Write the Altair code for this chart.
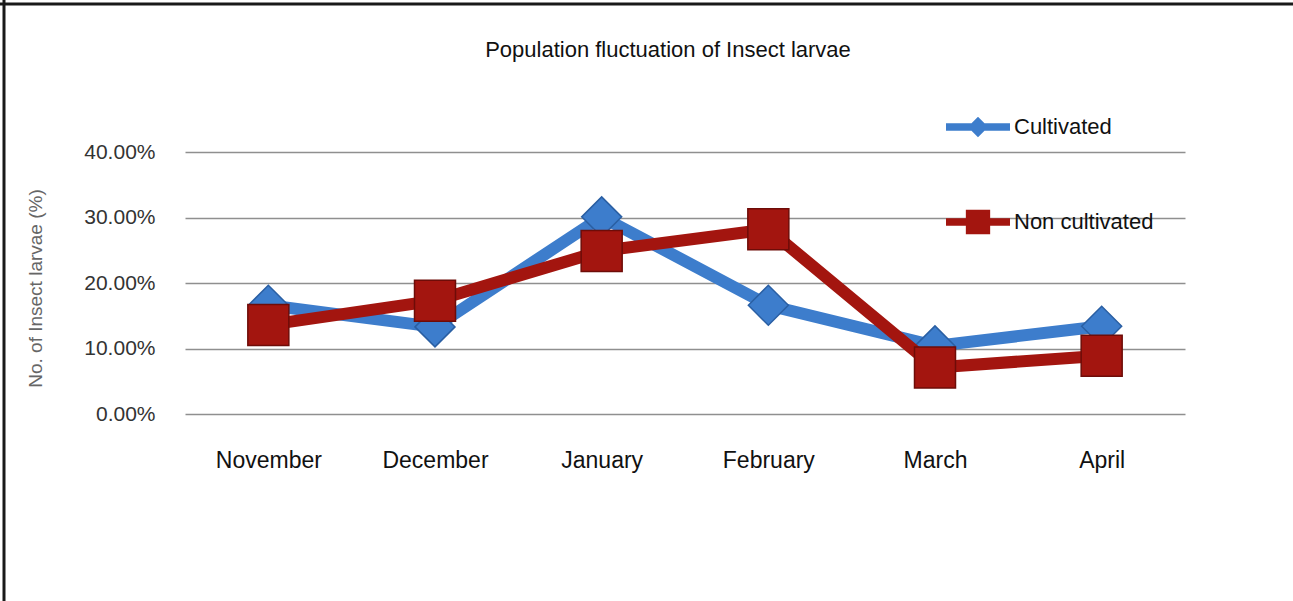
import altair as alt
import pandas as pd

# Monthly share of insect larvae (%) in two field types
months = ["November", "December", "January", "February", "March", "April"]
cultivated = [16.6, 13.3, 30.1, 16.6, 10.4, 13.4]
non_cultivated = [13.6, 17.3, 24.9, 28.2, 7.1, 8.9]

series = ["Cultivated", "Non cultivated"]
colors = ["#3D7DCC", "#A3150F"]

df = pd.DataFrame(
    {
        "month": months * 2,
        "value": [v / 100 for v in cultivated] + [v / 100 for v in non_cultivated],
        "series": ["Cultivated"] * len(months) + ["Non cultivated"] * len(months),
    }
)

FONT = "Liberation Sans"
TITLE = "Population fluctuation of Insect larvae"

x_enc = alt.X(
    "month:N",
    sort=months,
    scale=alt.Scale(type="point", padding=0.5),
    axis=alt.Axis(
        title=None,
        labelAngle=0,
        labelFontSize=23,
        labelColor="#111111",
        labelFont=FONT,
        labelPadding=35,
        ticks=False,
        domain=False,
        grid=False,
    ),
)
y_enc = alt.Y(
    "value:Q",
    scale=alt.Scale(domain=[0, 0.4], nice=False),
    axis=alt.Axis(
        title="No. of Insect larvae (%)",
        values=[0, 0.1, 0.2, 0.3, 0.4],
        format=".2%",
        labelFontSize=21,
        labelColor="#333333",
        labelFont=FONT,
        labelPadding=30,
        ticks=False,
        domain=False,
        grid=True,
        gridColor="#8f8f8f",
        gridWidth=1.5,
        titleFont=FONT,
        titleFontSize=19,
        titleFontWeight="normal",
        titleColor="#666666",
        titleX=-150,
        titleY=136,
        titleAngle=270,
        titleAlign="center",
        titleBaseline="middle",
    ),
)

color_scale = alt.Scale(domain=series, range=colors)

# legend symbols: a thick line segment with the series marker on it
diamond_sym = "M-1,-0.12L1,-0.12L1,0.12L-1,0.12Z M0,-0.32L0.32,0L0,0.32L-0.32,0Z"
square_sym = "M-1,-0.12L1,-0.12L1,0.12L-1,0.12Z M-0.38,-0.38L0.38,-0.38L0.38,0.38L-0.38,0.38Z"

legend = alt.Legend(
    title=None,
    orient="none",
    legendX=761,
    legendY=-57,
    direction="vertical",
    symbolSize=4096,
    symbolStrokeWidth=0,
    symbolOpacity=1,
    rowPadding=52,
    labelOffset=4,
    labelFontSize=22,
    labelFont=FONT,
    labelColor="#111111",
)

base = alt.Chart(df)


def line_layer(name):
    return (
        base.transform_filter(alt.datum.series == name)
        .mark_line(strokeWidth=12, strokeJoin="miter")
        .encode(x=x_enc, y=y_enc, color=alt.Color("series:N", scale=color_scale, legend=None))
    )


def point_layer(name, shape, size, edge):
    return (
        base.transform_filter(alt.datum.series == name)
        .mark_point(filled=True, shape=shape, size=size, opacity=1, stroke=edge, strokeWidth=1.5)
        .encode(
            x=x_enc,
            y=y_enc,
            color=alt.Color("series:N", scale=color_scale, legend=None),
        )
    )


# zero-size points whose only job is to carry the legend
legend_layer = (
    base.mark_point(filled=True, opacity=1, size=0)
    .encode(
        x=x_enc,
        y=y_enc,
        color=alt.Color("series:N", scale=color_scale, legend=legend),
        shape=alt.Shape(
            "series:N",
            scale=alt.Scale(domain=series, range=[diamond_sym, square_sym]),
            legend=legend,
        ),
    )
)

# frame lines along the top and left edge of the figure
frame = pd.DataFrame({"k": [0]})
top_edge = (
    alt.Chart(frame)
    .mark_rule(color="#1a1a1a", strokeWidth=3)
    .encode(x=alt.value(-185), x2=alt.value(1108), y=alt.value(-148))
)
left_edge = (
    alt.Chart(frame)
    .mark_rule(color="#1a1a1a", strokeWidth=3)
    .encode(x=alt.value(-181), y=alt.value(-152), y2=alt.value(449))
)
title_text = (
    alt.Chart(frame)
    .mark_text(font=FONT, fontSize=22, color="#111111", align="center", baseline="alphabetic")
    .encode(x=alt.value(483), y=alt.value(-95), text=alt.value(TITLE))
)

chart = (
    alt.layer(
        top_edge,
        left_edge,
        title_text,
        line_layer("Cultivated"),
        point_layer("Cultivated", "diamond", 1600, "#2a5fa3"),
        line_layer("Non cultivated"),
        point_layer("Non cultivated", "square", 1681, "#6e0c08"),
        legend_layer,
    )
    .resolve_legend(color="independent", shape="independent")
    .properties(
        width=1000,
        height=262,
        padding={"left": 185, "top": 152, "right": 108, "bottom": 187},
        autosize=alt.AutoSizeParams(type="none"),
        background="white",
    )
    .configure_view(stroke=None)
)

chart.save("out.html", embed_options={"renderer": "svg", "actions": False})
